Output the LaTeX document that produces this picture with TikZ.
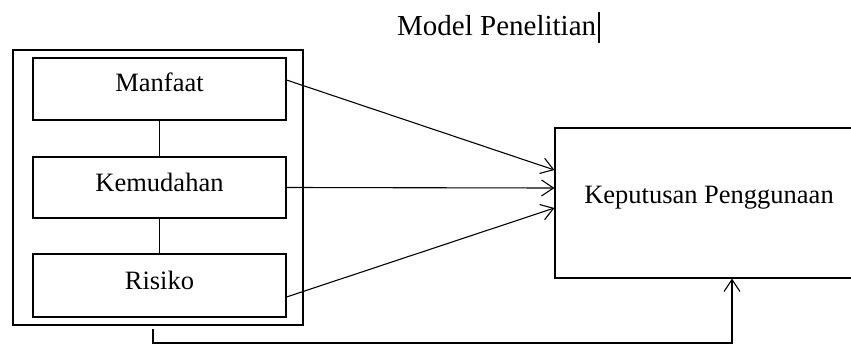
\documentclass[tikz,border=0pt]{standalone}
\usepackage{fontspec}
\setmainfont{Liberation Serif}
\usetikzlibrary{arrows.meta,calc}
\begin{document}
\begin{tikzpicture}[x=1pt,y=-1pt,
  box/.style={draw=black,line width=1.1pt,rectangle,inner sep=0pt},
  lbl/.style={inner sep=0pt,anchor=base,font=\fontsize{26.5}{30}\selectfont},
  conn/.style={draw=black,line width=1.1pt},
  arr/.style={conn,-{Straight Barb[length=12pt,width=16pt,line width=1.1pt]}}]
\useasboundingbox (0,0) rectangle (851,345);
\begin{scope}
\clip (0,0) rectangle (851,345);
% title
\node[inner sep=0pt,anchor=base west,font=\fontsize{29}{32}\selectfont] (title) at (397,36) {Model Penelitian};
\draw[line width=1.1pt] (599,12) -- (599,43);
% outer group
\node[box,line width=1.6pt,minimum width=290pt,minimum height=275pt] (outer) at (158,187.5) {};
% inner boxes
\node[box,minimum width=253pt,minimum height=62pt] (m) at (159.5,89) {};
\node[lbl] (mt) at (159.5,92) {Manfaat};
\node[box,minimum width=253pt,minimum height=61pt] (e) at (159.5,187.5) {};
\node[lbl] (et) at (159.5,191) {Kemudahan};
\node[box,minimum width=253pt,minimum height=63pt] (r) at (159.5,285.5) {};
\node[lbl] (rt) at (159.5,289) {Risiko};
% decision box
\node[box,minimum width=308pt,minimum height=150pt] (k) at (709,203) {};
\node[lbl] (kt) at (709,203) {Keputusan Penggunaan};
% vertical links
\draw[conn] (m.south) -- (e.north);
\draw[conn] (e.south) -- (r.north);
% arrows
\draw[arr] ($(m.east)+(0,-9)$) -- ($(k.west)+(0,-33)$);
\draw[arr] (e.east) -- ($(k.west)+(0,-15)$);
\draw[arr] ($(r.east)+(0,11.5)$) -- ($(k.west)+(0,5)$);
% bottom feedback
\coordinate (b1) at (153,329);
\coordinate (b2) at (153,343);
\coordinate (b3) at (732,343);
\draw[arr] (b1) -- (b2) -- (b3) -- (b3 |- k.south);
\end{scope}
\end{tikzpicture}
\end{document}
